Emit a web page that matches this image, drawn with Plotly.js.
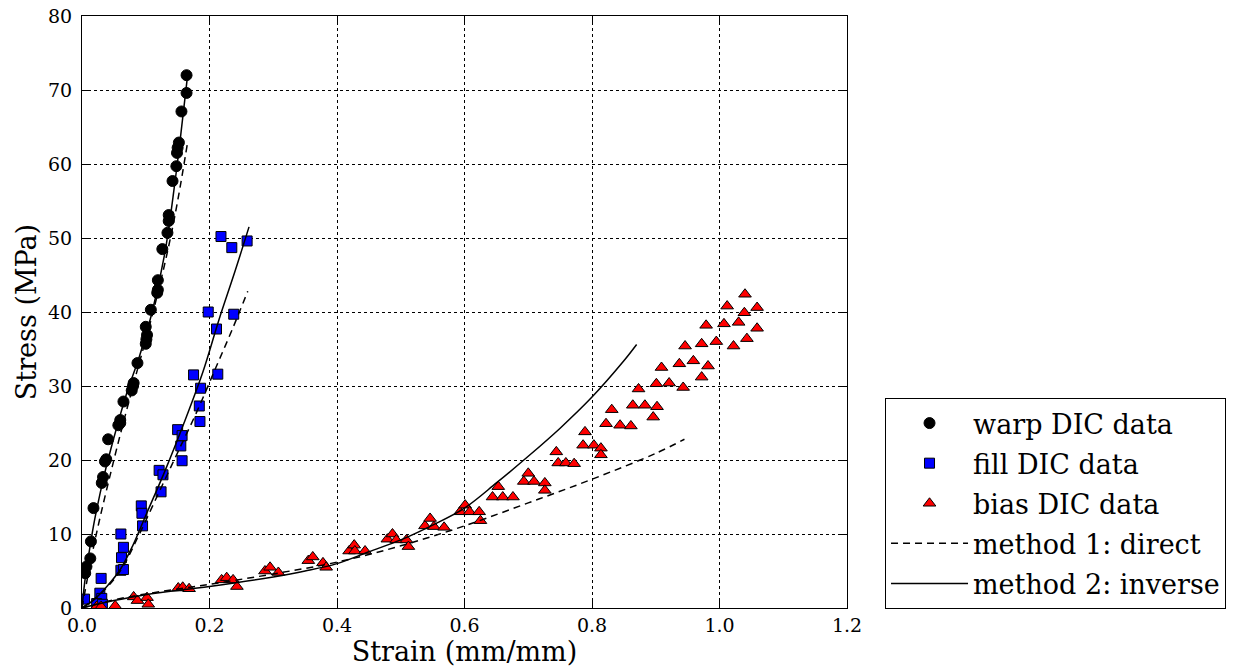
<!DOCTYPE html>
<html>
<head>
<meta charset="utf-8">
<script src="https://cdn.plot.ly/plotly-3.0.1.min.js"></script>
<style>html,body{margin:0;padding:0;background:#fff;}#chart{width:1238px;height:672px;}</style>
</head>
<body>
<div id="chart"></div>
<script>
// ---- measured data ----
const warpStrain = [0.164,0.164,0.156,0.152,0.150,0.149,0.148,0.142,0.136,0.136,0.134,0.126,0.119,0.119,0.118,0.108,0.100,0.102,0.101,0.100,0.087,0.081,0.080,0.078,0.065,0.060,0.057,0.060,0.041,0.036,0.038,0.033,0.031,0.018,0.014,0.013,0.007,0.005];
const warpStress = [72.0,69.6,67.1,62.9,62.2,61.5,59.7,57.7,53.1,52.3,50.7,48.5,44.3,43.0,42.6,40.3,38.0,36.9,36.3,35.7,33.1,30.4,30.0,29.4,27.9,25.4,24.7,25.0,22.8,19.8,20.1,17.7,16.9,13.5,9.0,6.7,5.6,4.7];

const fillStrain = [0.218,0.235,0.259,0.198,0.238,0.211,0.175,0.213,0.186,0.184,0.185,0.150,0.157,0.155,0.157,0.121,0.127,0.124,0.093,0.094,0.095,0.061,0.065,0.062,0.061,0.065,0.030,0.028,0.031,0.004,0.023,0.032];
const fillStress = [50.2,48.7,49.6,40.0,39.7,37.7,31.5,31.6,29.7,27.3,25.2,24.1,23.3,21.9,19.9,18.6,18.0,15.7,13.8,12.8,11.1,10.0,8.2,6.8,5.1,5.2,4.0,2.0,1.3,1.2,0.6,0.5];

const biasStrain = [0.023,0.030,0.052,0.081,0.087,0.102,0.104,0.151,0.158,0.168,0.219,0.227,0.237,0.243,0.287,0.295,0.308,0.355,0.362,0.378,0.383,0.419,0.427,0.428,0.444,0.479,0.487,0.493,0.509,0.512,0.538,0.546,0.552,0.568,0.593,0.601,0.608,0.623,0.625,0.644,0.653,0.660,0.676,0.693,0.700,0.709,0.726,0.726,0.744,0.747,0.759,0.772,0.786,0.789,0.803,0.814,0.814,0.822,0.831,0.844,0.861,0.864,0.873,0.883,0.896,0.901,0.902,0.909,0.921,0.937,0.943,0.946,0.959,0.972,0.972,0.979,0.982,0.995,1.007,1.012,1.022,1.030,1.039,1.040,1.043,1.059,1.059];
const biasStress = [0.2,0.2,0.3,1.5,1.0,1.4,0.5,2.7,2.8,2.6,3.8,4.1,3.8,2.9,5.0,5.5,4.8,6.4,6.9,6.1,5.5,7.7,8.5,7.7,7.7,9.3,10.0,9.2,9.2,8.3,11.1,12.1,11.0,10.9,13.0,13.9,13.0,13.0,11.8,15.0,16.4,15.0,15.0,17.1,18.2,17.1,16.9,15.9,21.1,19.6,19.6,19.5,22.0,23.8,22.0,21.6,20.7,24.9,26.8,24.7,24.6,27.4,29.6,27.4,25.8,30.3,27.2,32.5,30.4,33.0,29.8,35.4,33.4,31.2,35.7,38.2,32.7,36.0,38.4,40.8,35.4,38.6,39.9,42.4,36.4,40.6,37.8];

// method 1: direct (dashed)
const warpDirectStrain = [0,0.02,0.05,0.08,0.11,0.135,0.15,0.165];
const warpDirectStress = [0,9,20,30,39.5,48.5,55,62.6];
const fillDirectStrain = [0,0.03,0.06,0.09,0.12,0.15,0.18,0.21,0.235,0.26];
const fillDirectStress = [0,2,5,10,15.5,21,26.5,32.5,37.5,42.8];
const biasDirectStrain = [0,0.05,0.1,0.2,0.3,0.4,0.5,0.6,0.7,0.8,0.9,0.945];
const biasDirectStress = [0,1.1,1.9,3.2,4.6,6.2,8.4,11.1,14.2,17.4,20.9,22.8];

// method 2: inverse (solid)
const warpInverseStrain = [0,0.005,0.012,0.02,0.035,0.05,0.07,0.09,0.11,0.13,0.145,0.155,0.165];
const warpInverseStress = [0,4,8,12,18,23,29,34,40,48,57,64,71.5];
const fillInverseStrain = [0,0.02,0.04,0.06,0.08,0.1,0.13,0.16,0.19,0.215,0.24,0.262];
const fillInverseStress = [0,1.2,3,5.2,8.5,12.5,18.5,25,32,39,45.5,51.5];
const biasInverseStrain = [0,0.05,0.1,0.2,0.3,0.35,0.4,0.45,0.5,0.55,0.6,0.65,0.7,0.75,0.8,0.85,0.87];
const biasInverseStress = [0,1.0,1.8,2.9,4.2,5.0,6.0,7.6,9.2,11.2,13.5,16.9,20.5,24.3,28.5,33.4,35.6];

const serif = "'DejaVu Serif', 'Liberation Serif', serif";
const lineW = 1.5;
const dashStyle = '7px,5px';

const traces = [
  {x: warpStrain, y: warpStress, mode: 'markers', name: 'warp DIC data', legendgroup: 'g1',
   marker: {symbol: 'circle', size: 11, color: 'black', line: {color: 'black', width: 1}}},
  {x: fillStrain, y: fillStress, mode: 'markers', name: 'fill DIC data', legendgroup: 'g2',
   marker: {symbol: 'square', size: 10, color: '#0000ff', line: {color: 'black', width: 1}}},
  {x: biasStrain, y: biasStress, mode: 'markers', name: 'bias DIC data', legendgroup: 'g3',
   marker: {symbol: 'triangle-up', size: 11, color: '#ff0000', line: {color: 'black', width: 1}}},
  {x: warpDirectStrain, y: warpDirectStress, mode: 'lines', name: 'method 1: direct', legendgroup: 'g4',
   line: {color: 'black', width: lineW, dash: dashStyle, shape: 'spline'}},
  {x: fillDirectStrain, y: fillDirectStress, mode: 'lines', name: 'method 1: direct', legendgroup: 'g4', showlegend: false,
   line: {color: 'black', width: lineW, dash: dashStyle, shape: 'spline'}},
  {x: biasDirectStrain, y: biasDirectStress, mode: 'lines', name: 'method 1: direct', legendgroup: 'g4', showlegend: false,
   line: {color: 'black', width: lineW, dash: dashStyle, shape: 'spline'}},
  {x: warpInverseStrain, y: warpInverseStress, mode: 'lines', name: 'method 2: inverse', legendgroup: 'g5',
   line: {color: 'black', width: lineW, shape: 'spline'}},
  {x: fillInverseStrain, y: fillInverseStress, mode: 'lines', name: 'method 2: inverse', legendgroup: 'g5', showlegend: false,
   line: {color: 'black', width: lineW, shape: 'spline'}},
  {x: biasInverseStrain, y: biasInverseStress, mode: 'lines', name: 'method 2: inverse', legendgroup: 'g5', showlegend: false,
   line: {color: 'black', width: lineW, shape: 'spline'}}
];

const axisCommon = {
  showline: true, linecolor: 'black', linewidth: 1, mirror: 'ticks',
  ticks: 'inside', ticklen: 7, tickcolor: 'black', tickwidth: 1,
  showgrid: true, gridcolor: 'black', gridwidth: 1, griddash: 'dot',
  zeroline: false, tickfont: {family: serif, size: 19, color: 'black'}
};

const layout = {
  width: 1238, height: 672,
  margin: {l: 82, r: 391, t: 16, b: 64},
  paper_bgcolor: 'white', plot_bgcolor: 'white',
  font: {family: serif, color: 'black'},
  xaxis: Object.assign({}, axisCommon, {
    range: [0, 1.2], dtick: 0.2, tick0: 0, tickformat: '.1f',
    title: {text: 'Strain (mm/mm)', font: {family: serif, size: 27, color: 'black'}, standoff: 7}
  }),
  yaxis: Object.assign({}, axisCommon, {
    range: [0, 80], dtick: 10, tick0: 0, ticklabelstandoff: 5,
    title: {text: 'Stress (MPa)', font: {family: serif, size: 27, color: 'black'}, standoff: 3}
  }),
  showlegend: true,
  legend: {
    x: 1.0497, y: 0.3547, xanchor: 'left', yanchor: 'top',
    bordercolor: 'black', borderwidth: 1, bgcolor: 'white',
    font: {family: serif, size: 27, color: 'black'},
    traceorder: 'grouped', tracegroupgap: 2, itemwidth: 77,
    itemclick: false, itemdoubleclick: false
  }
};

Plotly.newPlot('chart', traces, layout, {displayModeBar: false, staticPlot: true});
</script>
</body>
</html>
